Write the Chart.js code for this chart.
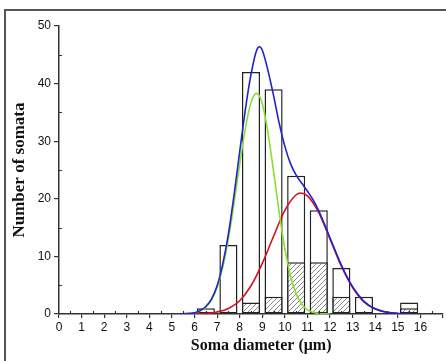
<!DOCTYPE html>
<html>
<head>
<meta charset="utf-8">
<script src="https://cdn.jsdelivr.net/npm/chart.js@4.4.1/dist/chart.umd.min.js"></script>
<style>
  body { margin: 0; background: #fff; }
  #wrap { position: relative; width: 446px; height: 361px; }
  #frame { position: absolute; left: 4px; top: 9px; width: 446px; height: 361px;
           border-left: 2px solid #555; border-top: 2px solid #555; }
</style>
</head>
<body>
<div id="wrap">
  <canvas id="chart" width="446" height="361"></canvas>
  <div id="frame"></div>
</div>
<script>
// histogram bins (centre of each 1 um bin)
const binCentres = [6.5, 7.5, 8.5, 9.5, 10.5, 11.5, 12.5, 13.5, 15.5];
const totalCounts = [1, 12, 42, 39, 24, 18, 8, 3, 2];
const hatchedCounts = [0, 0, 2, 3, 9, 9, 3, 0, 1];

// fitted curves
const sumX = [5.5, 6, 6.25, 6.5, 6.75, 7, 7.25, 7.5, 7.75, 8, 8.25, 8.5, 8.75, 8.875, 9, 9.25, 9.5, 9.75, 10, 10.25, 10.5, 10.75, 11, 11.25, 11.5, 11.75, 12, 12.5, 13, 13.5, 14, 14.5, 15, 15.5];
const sumY = [0.05, 0.2, 0.6, 1.3, 2.6, 4.9, 8.7, 13.9, 20.7, 28.2, 35.5, 41.6, 45.8, 46.4, 45.8, 42.3, 37.9, 33.1, 29.1, 26.1, 24.1, 22.7, 21.3, 19.8, 17.9, 15.6, 13.2, 8.5, 4.7, 2.2, 0.9, 0.33, 0.1, 0.03];
const smallX = [5.5, 6, 6.25, 6.5, 6.75, 7, 7.25, 7.5, 7.75, 8, 8.25, 8.5, 8.75, 9, 9.25, 9.5, 9.75, 10, 10.25, 10.5, 10.75, 11, 11.25, 11.5, 11.75, 12];
const smallY = [0.03, 0.2, 0.5, 1.2, 2.4, 4.6, 8.1, 13.0, 19.2, 26.0, 32.2, 36.7, 38.3, 36.5, 31.5, 24.7, 17.5, 11.3, 6.6, 3.5, 1.7, 0.7, 0.3, 0.1, 0.03, 0];
const largeX = [5.5, 6, 6.5, 7, 7.5, 8, 8.5, 9, 9.5, 10, 10.5, 10.7, 11, 11.5, 12, 12.5, 13, 13.5, 14, 14.5, 15, 15.5];
const largeY = [0.01, 0.03, 0.1, 0.35, 0.95, 2.3, 4.9, 8.8, 13.5, 18.0, 20.7, 21.0, 20.5, 17.6, 13.0, 8.3, 4.6, 2.1, 0.85, 0.3, 0.1, 0.03];

const yTicks = [0, 10, 20, 30, 40, 50];
const xTitle = 'Soma diameter (μm)';
const yTitle = 'Number of somata';

function pts(xs, ys) {
  return xs.map((x, i) => ({ x: x, y: ys[i] }));
}

// diagonal hatch pattern
const tile = document.createElement('canvas');
tile.width = 5; tile.height = 5;
const tctx = tile.getContext('2d');
tctx.fillStyle = '#fff';
tctx.fillRect(0, 0, 5, 5);
tctx.strokeStyle = '#7a7a7a';
tctx.lineWidth = 0.9;
tctx.beginPath();
tctx.moveTo(-1, 6); tctx.lineTo(6, -1);
tctx.moveTo(-1, 1); tctx.lineTo(1, -1);
tctx.moveTo(4, 6); tctx.lineTo(6, 4);
tctx.stroke();

const ctx = document.getElementById('chart').getContext('2d');
const hatch = ctx.createPattern(tile, 'repeat');

// white background, inward minor ticks, x title (sits a bit right of centre)
const extras = {
  id: 'extras',
  beforeDraw(chart) {
    const c = chart.ctx;
    c.save();
    c.fillStyle = '#fff';
    c.fillRect(0, 0, chart.width, chart.height);
    c.restore();
  },
  afterDraw(chart) {
    const c = chart.ctx;
    const xs = chart.scales.x, ys = chart.scales.y;
    c.save();
    c.strokeStyle = '#333';
    c.lineWidth = 1.2;
    c.beginPath();
    for (let v = 0.5; v < 17; v += 1) {
      const px = Math.round(xs.getPixelForValue(v)) + 0.5;
      c.moveTo(px, ys.bottom); c.lineTo(px, ys.bottom - 3);
    }
    for (let v = 5; v < 50; v += 10) {
      const py = Math.round(ys.getPixelForValue(v)) + 0.5;
      c.moveTo(xs.left, py); c.lineTo(xs.left + 3, py);
    }
    c.stroke();

    c.fillStyle = '#111';
    c.font = 'bold 16px "Liberation Serif"';
    c.textAlign = 'center';
    c.textBaseline = 'middle';
    c.fillText(xTitle, xs.getPixelForValue(8.95), 346);
    c.restore();
  }
};

new Chart(ctx, {
  type: 'bar',
  data: {
    datasets: [
      {
        type: 'line', label: 'sum', data: pts(sumX, sumY),
        borderColor: '#2222cc', borderWidth: 1.6, pointRadius: 0,
        cubicInterpolationMode: 'monotone', order: 0
      },
      {
        type: 'line', label: 'small', data: pts(smallX, smallY),
        borderColor: '#88e030', borderWidth: 1.6, pointRadius: 0,
        cubicInterpolationMode: 'monotone', order: 0
      },
      {
        type: 'line', label: 'large', data: pts(largeX, largeY),
        borderColor: '#d41020', borderWidth: 1.6, pointRadius: 0,
        cubicInterpolationMode: 'monotone', order: 0
      },
      {
        label: 'hatched', data: pts(binCentres, hatchedCounts).filter(p => p.y > 0),
        backgroundColor: hatch, borderColor: '#222', borderWidth: 1.5,
        borderSkipped: false, barPercentage: 0.8, categoryPercentage: 1,
        grouped: false, order: 1
      },
      {
        label: 'total', data: pts(binCentres, totalCounts),
        backgroundColor: '#fff', borderColor: '#222', borderWidth: 1.5,
        borderSkipped: false, barPercentage: 0.8, categoryPercentage: 1,
        grouped: false, order: 2
      }
    ]
  },
  options: {
    responsive: false,
    animation: false,
    layout: { padding: { left: 0, top: 26, right: 3, bottom: 0 } },
    plugins: {
      legend: { display: false },
      tooltip: { enabled: false }
    },
    scales: {
      x: {
        type: 'linear',
        offset: false,
        min: 0, max: 17,
        afterFit(scale) { scale.height = 47; },
        ticks: {
          stepSize: 1, padding: 2, color: '#111',
          font: { family: 'Liberation Sans', size: 12 },
          callback: (v) => (v <= 16 ? v : '')
        },
        grid: { drawOnChartArea: false, offset: false, tickLength: 4, color: '#333', lineWidth: 1.2 },
        border: { color: '#333', width: 1.5 }
      },
      y: {
        min: 0, max: 50,
        afterFit(scale) { scale.width = 59; },
        afterBuildTicks(scale) { scale.ticks = yTicks.map(v => ({ value: v })); },
        ticks: {
          padding: 3, color: '#111',
          font: { family: 'Liberation Sans', size: 12 }
        },
        grid: { drawOnChartArea: false, tickLength: 5, color: '#333', lineWidth: 1.2 },
        border: { color: '#333', width: 1.5 },
        title: {
          display: true, text: yTitle, color: '#111',
          font: { family: 'Liberation Serif', size: 17, weight: 'bold' },
          padding: { top: 9, bottom: 0 }
        }
      }
    }
  },
  plugins: [extras]
});
</script>
</body>
</html>
